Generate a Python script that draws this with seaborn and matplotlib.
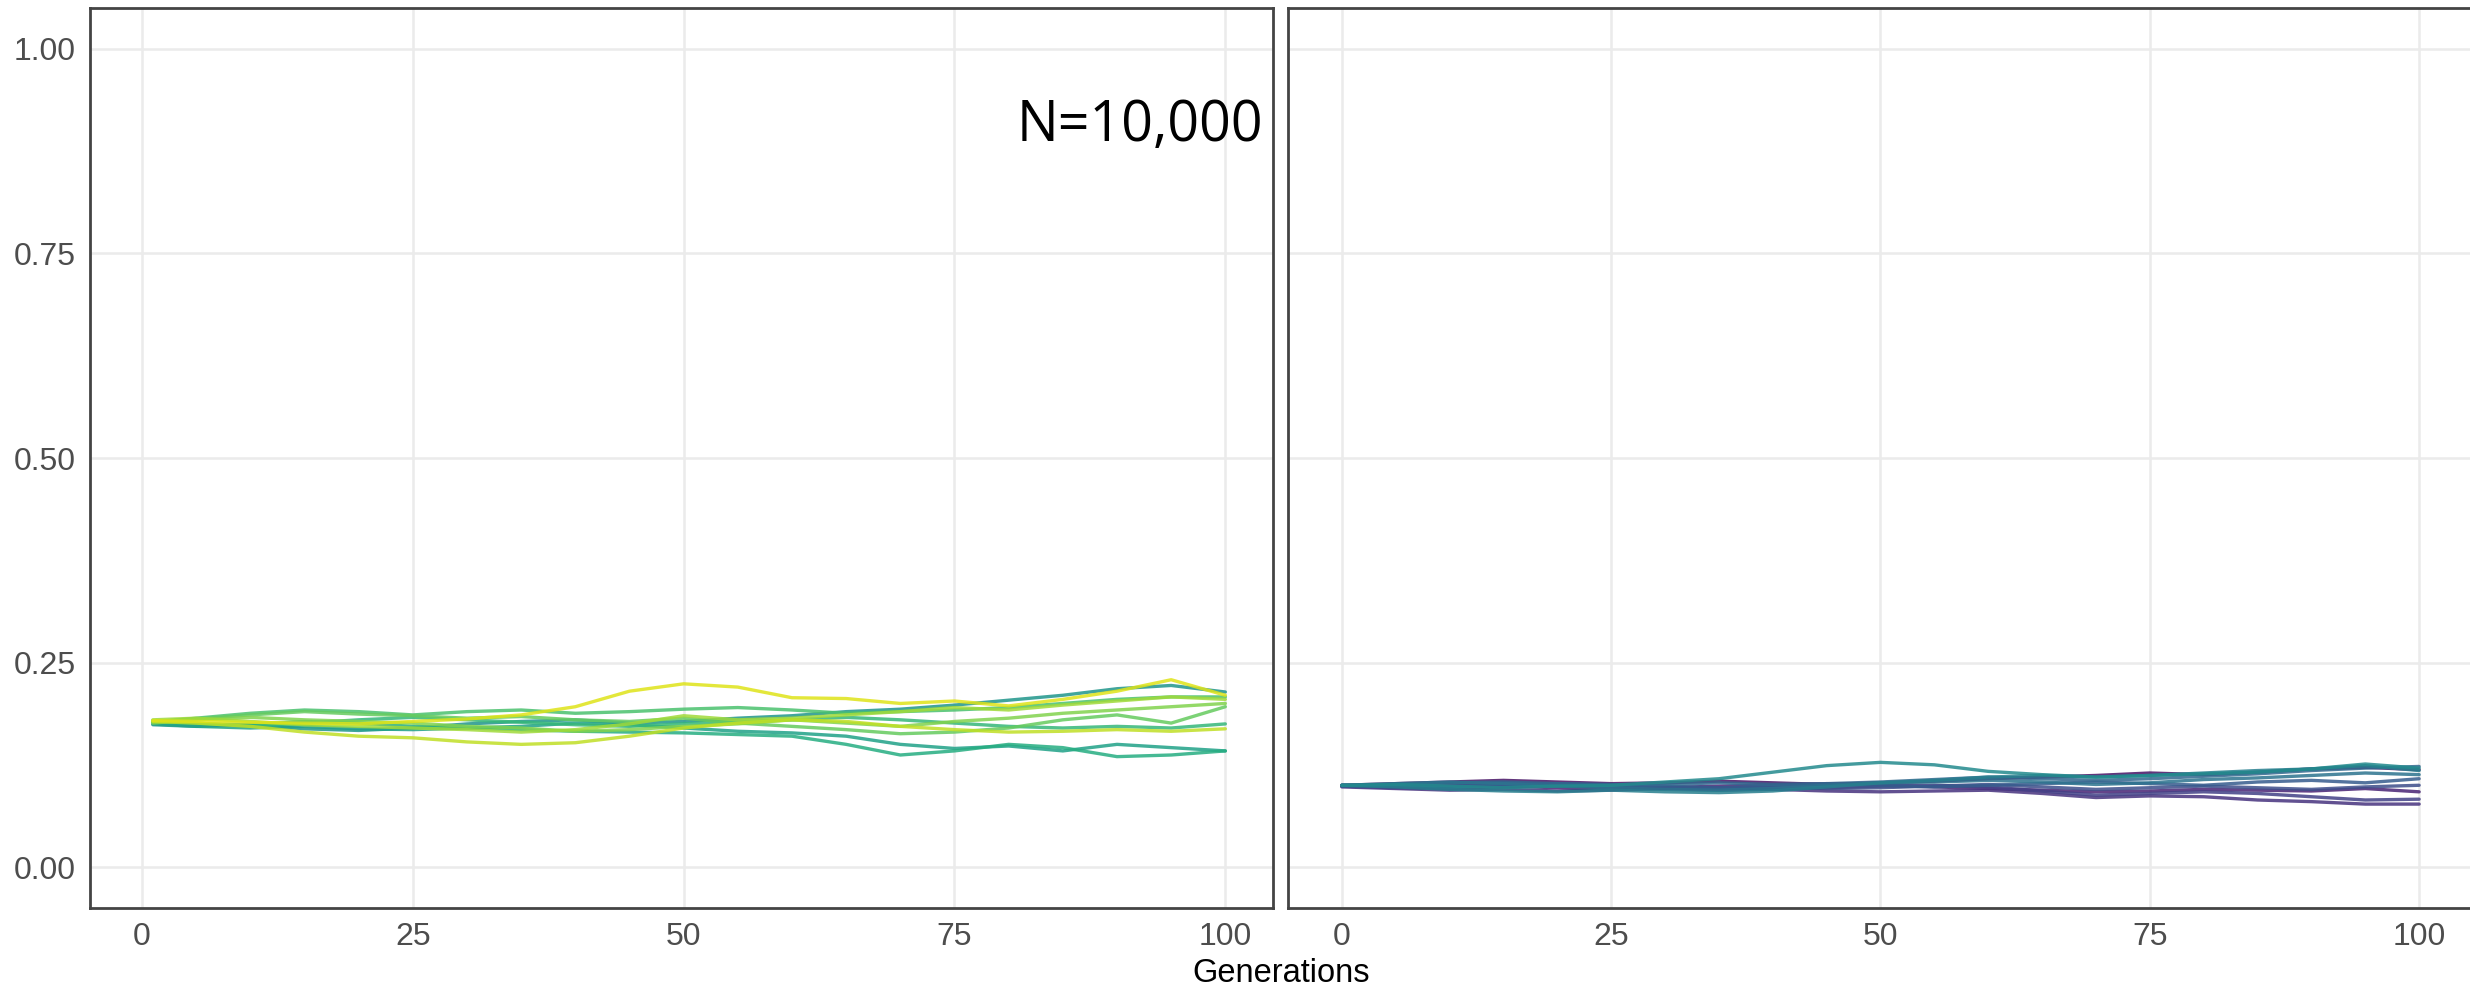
import matplotlib
matplotlib.use("Agg")
import matplotlib.pyplot as plt
import pandas as pd
import seaborn as sns

# generations
GEN_LEFT = [1, 5, 10, 15, 20, 25, 30, 35, 40, 45, 50, 55, 60, 65, 70, 75, 80, 85, 90, 95, 100]
GEN_RIGHT = [0, 5, 10, 15, 20, 25, 30, 35, 40, 45, 50, 55, 60, 65, 70, 75, 80, 85, 90, 95, 100]

# left panel, N=10,000 (runs 11..20, teal -> yellow)
LEFT_RUNS = {
    11: [0.174, 0.172, 0.174, 0.169, 0.167, 0.170, 0.175, 0.178, 0.180, 0.176, 0.178, 0.182, 0.185, 0.190, 0.193, 0.198, 0.204, 0.210, 0.218, 0.222, 0.214],
    12: [0.175, 0.172, 0.170, 0.172, 0.169, 0.168, 0.170, 0.172, 0.176, 0.174, 0.170, 0.166, 0.164, 0.160, 0.150, 0.145, 0.148, 0.142, 0.150, 0.146, 0.142],
    13: [0.177, 0.175, 0.174, 0.178, 0.176, 0.172, 0.170, 0.168, 0.166, 0.165, 0.164, 0.162, 0.160, 0.150, 0.137, 0.142, 0.150, 0.146, 0.135, 0.137, 0.142],
    14: [0.179, 0.176, 0.172, 0.176, 0.180, 0.183, 0.180, 0.177, 0.174, 0.172, 0.175, 0.178, 0.180, 0.183, 0.180, 0.176, 0.172, 0.170, 0.172, 0.170, 0.175],
    15: [0.177, 0.182, 0.188, 0.192, 0.190, 0.186, 0.190, 0.192, 0.188, 0.190, 0.193, 0.195, 0.192, 0.188, 0.190, 0.192, 0.195, 0.200, 0.205, 0.208, 0.208],
    16: [0.178, 0.181, 0.186, 0.190, 0.187, 0.185, 0.182, 0.184, 0.180, 0.178, 0.182, 0.176, 0.172, 0.168, 0.163, 0.165, 0.170, 0.180, 0.186, 0.176, 0.196],
    17: [0.176, 0.180, 0.183, 0.180, 0.178, 0.176, 0.172, 0.170, 0.166, 0.168, 0.172, 0.175, 0.180, 0.176, 0.172, 0.178, 0.182, 0.188, 0.192, 0.196, 0.200],
    18: [0.180, 0.182, 0.178, 0.174, 0.172, 0.170, 0.168, 0.165, 0.168, 0.175, 0.185, 0.180, 0.182, 0.186, 0.190, 0.195, 0.192, 0.198, 0.203, 0.208, 0.205],
    19: [0.178, 0.176, 0.172, 0.165, 0.160, 0.158, 0.153, 0.150, 0.152, 0.160, 0.170, 0.176, 0.180, 0.178, 0.172, 0.168, 0.165, 0.166, 0.168, 0.166, 0.169],
    20: [0.179, 0.178, 0.177, 0.176, 0.175, 0.178, 0.181, 0.186, 0.196, 0.215, 0.224, 0.220, 0.207, 0.206, 0.200, 0.203, 0.197, 0.205, 0.215, 0.229, 0.210],
}

# right panel (runs 1..10, purple -> teal)
RIGHT_RUNS = {
    1: [0.100, 0.102, 0.104, 0.106, 0.104, 0.102, 0.103, 0.105, 0.103, 0.101, 0.103, 0.105, 0.108, 0.110, 0.112, 0.115, 0.113, 0.116, 0.120, 0.122, 0.119],
    2: [0.099, 0.100, 0.101, 0.099, 0.097, 0.095, 0.097, 0.099, 0.100, 0.102, 0.100, 0.098, 0.096, 0.094, 0.092, 0.093, 0.095, 0.094, 0.093, 0.096, 0.092],
    3: [0.098, 0.096, 0.094, 0.095, 0.093, 0.094, 0.096, 0.097, 0.095, 0.093, 0.092, 0.093, 0.094, 0.090, 0.085, 0.087, 0.086, 0.082, 0.080, 0.077, 0.077],
    4: [0.099, 0.097, 0.096, 0.098, 0.100, 0.098, 0.096, 0.094, 0.095, 0.097, 0.099, 0.100, 0.098, 0.093, 0.088, 0.090, 0.092, 0.090, 0.086, 0.082, 0.083],
    5: [0.100, 0.098, 0.099, 0.103, 0.101, 0.099, 0.097, 0.096, 0.098, 0.096, 0.097, 0.099, 0.101, 0.098, 0.095, 0.097, 0.099, 0.097, 0.095, 0.098, 0.100],
    6: [0.100, 0.099, 0.098, 0.100, 0.102, 0.101, 0.099, 0.097, 0.099, 0.101, 0.100, 0.098, 0.100, 0.102, 0.104, 0.102, 0.100, 0.104, 0.106, 0.103, 0.108],
    7: [0.099, 0.101, 0.103, 0.104, 0.102, 0.100, 0.101, 0.103, 0.101, 0.102, 0.104, 0.107, 0.110, 0.108, 0.106, 0.108, 0.111, 0.114, 0.118, 0.121, 0.123],
    8: [0.100, 0.102, 0.104, 0.102, 0.099, 0.097, 0.095, 0.094, 0.096, 0.100, 0.103, 0.104, 0.106, 0.104, 0.101, 0.103, 0.107, 0.109, 0.112, 0.115, 0.113],
    9: [0.100, 0.098, 0.095, 0.093, 0.092, 0.094, 0.092, 0.091, 0.093, 0.098, 0.103, 0.106, 0.110, 0.112, 0.110, 0.112, 0.115, 0.118, 0.120, 0.124, 0.118],
    10: [0.100, 0.101, 0.099, 0.097, 0.099, 0.100, 0.104, 0.108, 0.116, 0.124, 0.128, 0.125, 0.117, 0.113, 0.110, 0.112, 0.114, 0.116, 0.120, 0.126, 0.121],
}

X_TICKS = [0, 25, 50, 75, 100]
Y_TICKS = [0.00, 0.25, 0.50, 0.75, 1.00]
Y_TICK_LABELS = ["0.00", "0.25", "0.50", "0.75", "1.00"]
PANEL_LABEL = "N=10,000"
X_TITLE = "Generations"


def long_form(gens, runs):
    rows = []
    for run, vals in runs.items():
        for g, v in zip(gens, vals):
            rows.append({"generation": g, "freq": v, "run": run})
    return pd.DataFrame(rows)


def style_panel(ax, xlim, show_y):
    ax.set_xlim(*xlim)
    ax.set_ylim(-0.05, 1.05)
    ax.set_xticks(X_TICKS)
    ax.set_xticklabels([str(t) for t in X_TICKS])
    ax.set_yticks(Y_TICKS)
    if show_y:
        ax.set_yticklabels(Y_TICK_LABELS)
    else:
        ax.set_yticklabels([])
        ax.tick_params(axis="y", length=0)
    ax.grid(True, color="#ebebeb", linewidth=1.8)
    ax.set_axisbelow(True)
    for s in ax.spines.values():
        s.set_visible(True)
        s.set_color("#444444")
        s.set_linewidth(2.0)
    ax.tick_params(axis="both", colors="#333333", labelcolor="#4d4d4d",
                   labelsize=23, length=7, width=1.5, pad=3)
    ax.set_xlabel("")
    ax.set_ylabel("")


sns.set_style("white")
plt.rcParams["font.family"] = ["Liberation Sans", "DejaVu Sans"]

left = long_form(GEN_LEFT, LEFT_RUNS)
right = long_form(GEN_RIGHT, RIGHT_RUNS)
colors = sns.color_palette("viridis", 20)
palette = {run: colors[run - 1] for run in range(1, 21)}

W, H = 2470, 989
fig = plt.figure(figsize=(W / 100, H / 100), dpi=100)
ax_l = fig.add_axes([90 / W, 1 - 908 / H, 1183 / W, 900 / H])
ax_r = fig.add_axes([1288 / W, 1 - 908 / H, 1185 / W, 900 / H])

sns.lineplot(data=left, x="generation", y="freq", hue="run", palette=palette,
             ax=ax_l, legend=False, linewidth=2.4, alpha=0.85, errorbar=None)
sns.lineplot(data=right, x="generation", y="freq", hue="run", palette=palette,
             ax=ax_r, legend=False, linewidth=2.4, alpha=0.85, errorbar=None)

style_panel(ax_l, (-4.8, 104.4), True)
style_panel(ax_r, (-5.0, 105.0), False)

fig.text(1263 / W, 1 - 141 / H, PANEL_LABEL, ha="right", va="baseline",
         fontsize=40, color="black", family=["Open Sans", "DejaVu Sans"])
fig.text(1281 / W, 1 - 973 / H, X_TITLE, ha="center", va="center",
         fontsize=23.5, color="black")

fig.savefig("out.png", dpi=100)
